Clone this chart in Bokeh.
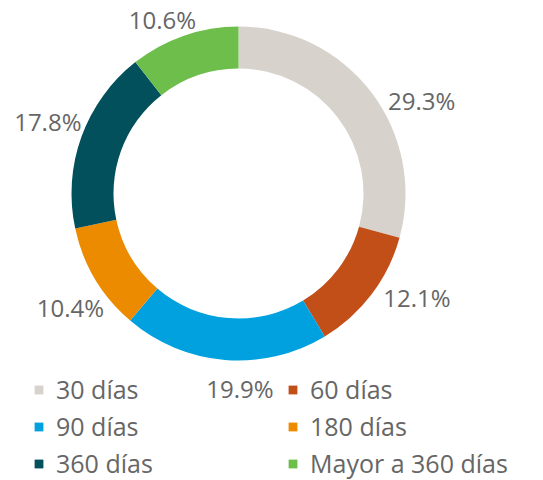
import numpy as np
from bokeh.plotting import figure
from bokeh.models import ColumnDataSource, Range1d, Legend, LegendItem
from bokeh.core.properties import value
from bokeh.embed import file_html
from bokeh.resources import INLINE

# ---- data ----
categories = ["30 días", "60 días", "90 días", "180 días", "360 días", "Mayor a 360 días"]
shares = [29.3, 12.1, 19.9, 10.4, 17.8, 10.6]
share_labels = ["29.3%", "12.1%", "19.9%", "10.4%", "17.8%", "10.6%"]

# ---- style / layout ----
colors = ["#D7D2CB", "#C24E18", "#00A1DE", "#EC8B00", "#02505B", "#6DBE4B"]
W, H = 543, 480
CX, CY = 238, H - 193
R_OUT, R_IN = 167, 125
R_LABEL = 190
# pixel nudges of each label from its radial anchor (dx right, dy down)
label_nudge = [(32, 22), (27, -11), (17, 6), (-5, 17), (-12, -7), (-14, 6)]
FONT = "Open Sans"
TEXT_COLOR = "#666666"

vals = np.array(shares, dtype=float)
frac = vals / vals.sum()
cum_end = np.cumsum(frac)
cum_start = cum_end - frac
start = np.pi / 2 - 2 * np.pi * cum_end
end = np.pi / 2 - 2 * np.pi * cum_start
mid = 2 * np.pi * (cum_start + cum_end) / 2  # clockwise from top

lx = [CX + R_LABEL * np.sin(m) + n[0] for m, n in zip(mid, label_nudge)]
ly = [CY + R_LABEL * np.cos(m) - n[1] for m, n in zip(mid, label_nudge)]

src = ColumnDataSource(dict(cat=categories, start=start, end=end, color=colors))
lsrc = ColumnDataSource(dict(x=lx, y=ly, text=share_labels))

p = figure(width=W, height=H, x_range=Range1d(0, W), y_range=Range1d(0, H),
           output_backend="svg", toolbar_location=None, min_border=0,
           x_axis_type=None, y_axis_type=None, outline_line_color=None)
p.grid.visible = False

r = p.annular_wedge(x=CX, y=CY, inner_radius=R_IN, outer_radius=R_OUT,
                    start_angle="start", end_angle="end", direction="anticlock",
                    fill_color="color", line_color=None, source=src)

p.text(x="x", y="y", text="text", source=lsrc, text_font=value(FONT),
       text_font_size="24px", text_color=TEXT_COLOR, text_align="center",
       text_baseline="middle")

items = [LegendItem(label=c, renderers=[r], index=i) for i, c in enumerate(categories)]
legend = Legend(items=items, orientation="horizontal", ncols=2, location=(33, 0),
                glyph_width=11, glyph_height=11, label_standoff=12, label_width=228,
                label_height=28, spacing=3, padding=0, margin=0,
                border_line_color=None, background_fill_alpha=0,
                label_text_font=FONT, label_text_font_size="25px",
                label_text_color=TEXT_COLOR, label_text_baseline="middle")
p.add_layout(legend)

open("out.html", "w").write(file_html(p, INLINE))
